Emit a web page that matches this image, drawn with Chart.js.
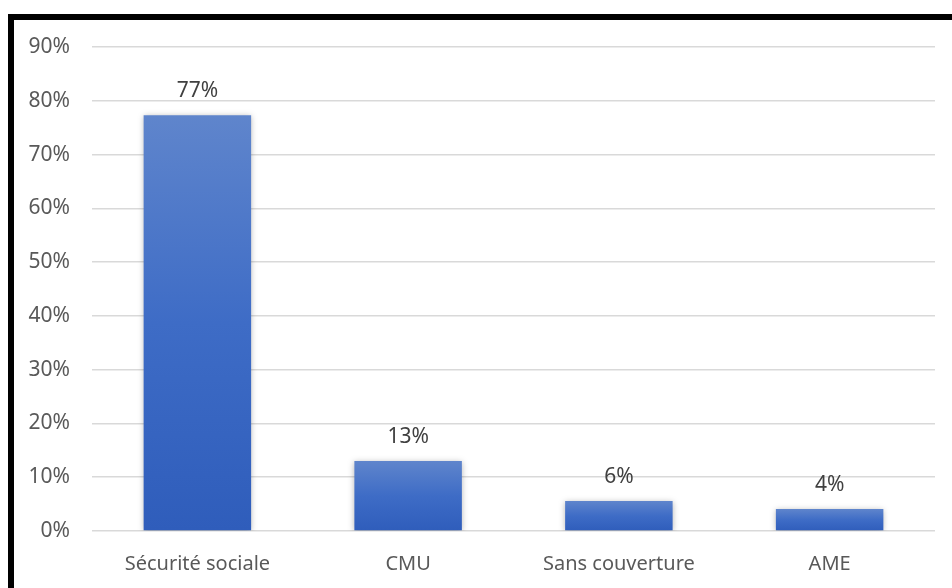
<!DOCTYPE html>
<html>
<head>
<meta charset="utf-8">
<script src="https://cdn.jsdelivr.net/npm/chart.js@4"></script>
<style>
html,body{margin:0;padding:0;background:#fff;overflow:hidden;}
#wrap{position:absolute;left:0;top:0;width:952px;height:588px;}
#frame{position:absolute;left:8px;top:14px;width:1000px;height:700px;border-left:6px solid #000;border-top:6px solid #000;box-sizing:border-box;pointer-events:none;}
</style>
</head>
<body>
<div id="wrap"><canvas id="c" width="952" height="588"></canvas></div>
<div id="frame"></div>
<script>
const categories = ["Sécurité sociale", "CMU", "Sans couverture", "AME"];
const values = [77.3, 13.0, 5.6, 4.1];
const valueLabels = ["77%", "13%", "6%", "4%"];
const yTicks = [0, 10, 20, 30, 40, 50, 60, 70, 80, 90];

const FONT = "'Noto Sans', sans-serif";

const gradientFill = (ctx) => {
  const chart = ctx.chart;
  const ys = chart.scales && chart.scales.y;
  if (!ys || !chart.chartArea || ctx.raw === undefined) return '#4472c4';
  const top = ys.getPixelForValue(ctx.raw);
  const bottom = ys.getPixelForValue(0);
  if (!isFinite(top) || !isFinite(bottom) || top >= bottom) return '#4472c4';
  const g = chart.ctx.createLinearGradient(0, top, 0, bottom);
  g.addColorStop(0, '#5f85cc');
  g.addColorStop(0.5, '#3e6cc6');
  g.addColorStop(1, '#2f5dbb');
  return g;
};

const shadowPlugin = {
  id: 'shadow',
  beforeDatasetDraw(chart) {
    const c = chart.ctx;
    c.save();
    c.shadowColor = 'rgba(0,0,0,0.28)';
    c.shadowBlur = 6;
    c.shadowOffsetX = 0;
    c.shadowOffsetY = 1;
  },
  afterDatasetDraw(chart) {
    chart.ctx.restore();
  }
};

const labelPlugin = {
  id: 'valueLabels',
  afterDatasetsDraw(chart) {
    const c = chart.ctx;
    const meta = chart.getDatasetMeta(0);
    c.save();
    c.font = "21px " + FONT;
    c.fillStyle = '#404040';
    c.textAlign = 'center';
    c.textBaseline = 'middle';
    meta.data.forEach((el, i) => {
      c.fillText(valueLabels[i], el.x, el.y - 24);
    });
    c.restore();
  }
};

new Chart(document.getElementById('c'), {
  type: 'bar',
  data: {
    labels: categories,
    datasets: [{
      data: values,
      backgroundColor: gradientFill,
      borderWidth: 0,
      barPercentage: 0.51,
      categoryPercentage: 1.0
    }]
  },
  options: {
    responsive: false,
    animation: false,
    devicePixelRatio: 1,
    layout: { padding: { left: 20, right: 17, top: 47, bottom: 0 } },
    plugins: { legend: { display: false }, tooltip: { enabled: false } },
    scales: {
      x: {
        grid: { display: false, drawTicks: false },
        border: { display: false },
        ticks: { color: '#595959', font: { family: FONT, size: 20 }, padding: 21, maxRotation: 0 },
        afterFit(s) { s.height = 57; }
      },
      y: {
        min: 0, max: 90,
        afterBuildTicks(s) { s.ticks = yTicks.map(v => ({ value: v })); },
        grid: { color: '#d9d9d9', lineWidth: 1.5, drawTicks: false },
        border: { display: false },
        ticks: { color: '#595959', font: { family: FONT, size: 21 }, padding: 22, callback: v => v + '%' },
        afterFit(s) { s.width = 72; }
      }
    }
  },
  plugins: [shadowPlugin, labelPlugin]
});
</script>
</body>
</html>
